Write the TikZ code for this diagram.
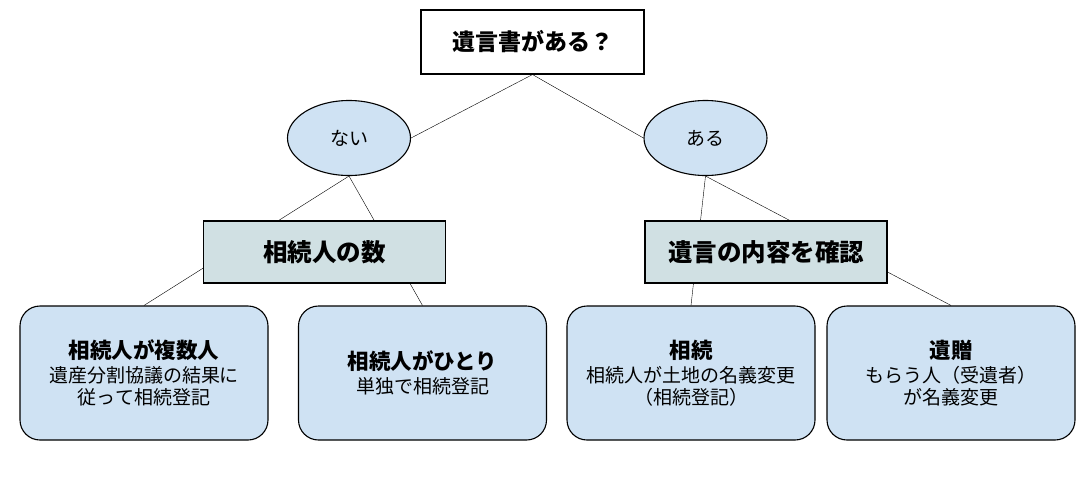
\documentclass[tikz,border=0pt]{standalone}
\usepackage{fontspec}
\setmainfont{Noto Sans CJK JP}
\usetikzlibrary{shapes.geometric,backgrounds}
\definecolor{paleblue}{HTML}{CFE2F3}
\definecolor{palecyan}{HTML}{D0E0E3}
\begin{document}
\begin{tikzpicture}[x=1pt, y=-1pt, line width=1.1pt,
    question/.style = {draw, fill=white, inner sep=0pt, minimum width=223pt, minimum height=64pt, font=\bfseries\fontsize{23}{26}\selectfont},
    answer/.style = {draw, ellipse, fill=paleblue, inner sep=0pt, minimum width=123pt, minimum height=75pt, font=\fontsize{19}{22}\selectfont},
    check/.style = {draw, fill=palecyan, inner sep=0pt, minimum width=242pt, minimum height=62pt, font=\bfseries\fontsize{24.5}{26}\selectfont},
    result/.style = {draw, rounded corners=20pt, fill=paleblue, inner sep=0pt, minimum width=248pt, minimum height=134pt, align=center, font=\fontsize{19}{22}\selectfont}]
    \useasboundingbox (0,0) rectangle (1088,483);
            \node[question] (1) at (532.5,42) {遺言書がある？};
            \node[answer] (2) at (349,138) {ない};
            \node[answer] (3) at (705.5,138) {ある};
            \node[check] (4) at (324.5,252) {相続人の数};
            \node[check] (5) at (766,252) {遺言の内容を確認};
            \node[result] (6) at (144,373) {{\bfseries\fontsize{21.5}{22}\selectfont 相続人が複数人}\\[2pt] 遺産分割協議の結果に\\ 従って相続登記};
            \node[result] (7) at (422.5,373) {{\bfseries\fontsize{21.5}{22}\selectfont 相続人がひとり}\\[2pt] 単独で相続登記};
            \node[result] (8) at (691,373) {{\bfseries\fontsize{21.5}{22}\selectfont 相続}\\[2pt] 相続人が土地の名義変更\\ （相続登記）};
            \node[result] (9) at (951,373) {{\bfseries\fontsize{21.5}{22}\selectfont 遺贈}\\[2pt] もらう人（受遺者）\\ が名義変更};
            \begin{pgfonlayer}{background}
            \draw (1.south) -- (2.east);
            \draw (1.south) -- (3.west);
            \draw (2.south) -- (6.north);
            \draw (2.south) -- (7.north);
            \draw (3.south) -- (8.north);
            \draw (3.south) -- (9.north);
            \end{pgfonlayer}
        \end{tikzpicture}
\end{document}
